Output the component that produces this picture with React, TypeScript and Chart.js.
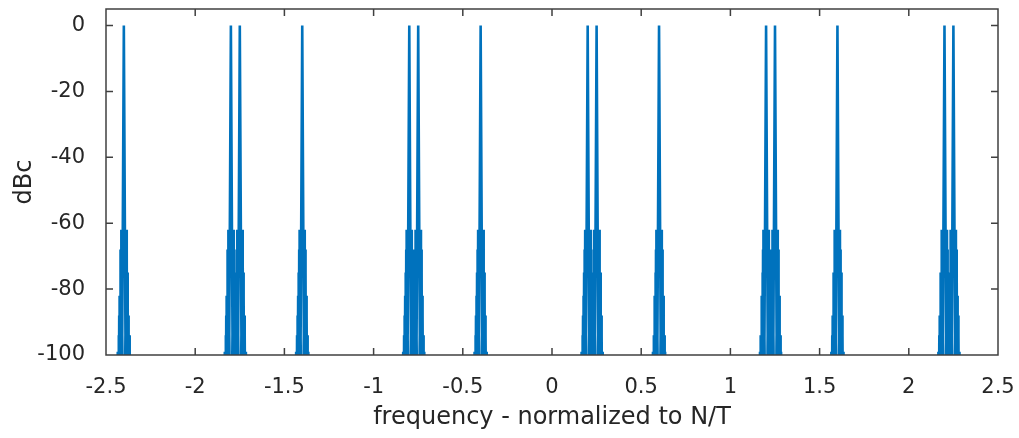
import React, { useEffect, useRef } from 'react';
import { Chart, registerables } from 'chart.js';

Chart.register(...registerables);

// Spike centres (frequency, normalized to N/T)
const spikeCenters = [-2.4, -1.8, -1.75, -1.4, -0.8, -0.75, -0.4, 0.2, 0.25, 0.6, 1.2, 1.25, 1.6, 2.2, 2.25];
// Shape of one spike: offsets from its centre and levels in dBc (drawn in order)
const shapeOffsets = [
  -0.040, -0.034, -0.0315, -0.029, -0.0275, -0.026, -0.0245, -0.023, -0.0215, -0.020, -0.0185, -0.017, -0.0155, -0.014, -0.004, -0.012,
  0,
  0.012, 0.004, 0.014, 0.0155, 0.017, 0.0185, 0.020, 0.0215, 0.023, 0.0245, 0.026, 0.0275, 0.029, 0.0315, 0.034, 0.040,
];
const shapeLevels = [
  -125, -99, -125, -94, -125, -88, -125, -82, -125, -75, -125, -68, -125, -62, -125, -125,
  0,
  -125, -125, -62, -125, -68, -125, -75, -125, -82, -125, -88, -125, -94, -125, -99, -125,
];

const xTicks = [-2.5, -2, -1.5, -1, -0.5, 0, 0.5, 1, 1.5, 2, 2.5];
const yTicks = [-100, -80, -60, -40, -20, 0];
const xLimits = [-2.5, 2.5];
const yLimits = [-100, 5];

const xTitle = 'frequency - normalized to N/T';
const yTitle = 'dBc';

const FONT = "'DejaVu Sans', 'Liberation Sans', Arial, sans-serif";
const TEXT = '#262626';

const boxPlugin = {
  id: 'matlabBox',
  afterDraw(chart: any) {
    const { ctx, chartArea: a, scales } = chart;
    const tl = 7;
    ctx.save();
    ctx.strokeStyle = '#404040';
    ctx.lineWidth = 1.5;
    ctx.beginPath();
    scales.x.ticks.forEach((t: any) => {
      const px = scales.x.getPixelForValue(t.value);
      ctx.moveTo(px, a.bottom);
      ctx.lineTo(px, a.bottom - tl);
      ctx.moveTo(px, a.top);
      ctx.lineTo(px, a.top + tl);
    });
    scales.y.ticks.forEach((t: any) => {
      const py = scales.y.getPixelForValue(t.value);
      ctx.moveTo(a.left, py);
      ctx.lineTo(a.left + tl, py);
      ctx.moveTo(a.right, py);
      ctx.lineTo(a.right - tl, py);
    });
    ctx.rect(a.left, a.top, a.right - a.left, a.bottom - a.top);
    ctx.stroke();
    ctx.restore();
  },
};

export default function App() {
  const ref = useRef<HTMLCanvasElement | null>(null);

  useEffect(() => {
    if (!ref.current) return;
    const points: any[] = [];
    spikeCenters.forEach((c) => {
      shapeOffsets.forEach((off, i) => {
        points.push({ x: c + off, y: shapeLevels[i] });
      });
      points.push({ x: c, y: null });
    });

    const chart = new Chart(ref.current, {
      type: 'line',
      data: {
        datasets: [
          {
            data: points,
            borderColor: '#0072BD',
            backgroundColor: '#0072BD',
            borderWidth: 2.6,
            pointRadius: 0,
            tension: 0,
            spanGaps: false,
            clip: 0,
          } as any,
        ],
      },
      options: {
        animation: false,
        responsive: true,
        maintainAspectRatio: false,
        layout: { padding: { top: 9, right: 21, left: 0, bottom: 0 } },
        plugins: { legend: { display: false }, tooltip: { enabled: false } },
        scales: {
          x: {
            type: 'linear',
            min: xLimits[0],
            max: xLimits[1],
            grid: { display: false },
            border: { display: false },
            afterBuildTicks: (s: any) => {
              s.ticks = xTicks.map((v) => ({ value: v }));
            },
            afterFit: (s: any) => {
              s.height = 83;
              s.paddingLeft = 0;
              s.paddingRight = 0;
            },
            ticks: {
              padding: 12,
              maxRotation: 0,
              autoSkip: false,
              color: TEXT,
              font: { family: FONT, size: 21 },
              callback: (v: any) => String(v),
            },
            title: {
              display: true,
              text: xTitle,
              color: TEXT,
              font: { family: FONT, size: 24 },
              padding: { top: 0, bottom: 6 },
            },
          },
          y: {
            type: 'linear',
            min: yLimits[0],
            max: yLimits[1],
            grid: { display: false },
            border: { display: false },
            afterBuildTicks: (s: any) => {
              s.ticks = yTicks.map((v) => ({ value: v }));
            },
            afterFit: (s: any) => {
              s.width = 106;
              s.paddingTop = 0;
              s.paddingBottom = 0;
            },
            ticks: {
              padding: 13,
              autoSkip: false,
              color: TEXT,
              font: { family: FONT, size: 21 },
              callback: (v: any) => String(v),
            },
            title: {
              display: true,
              text: yTitle,
              color: TEXT,
              font: { family: FONT, size: 24 },
              padding: { top: 10, bottom: 0 },
            },
          },
        },
      },
      plugins: [boxPlugin],
    });
    return () => chart.destroy();
  }, []);

  return (
    <div style={{ position: 'fixed', left: 0, top: 0, width: 1019, height: 438, background: '#fff' }}>
      <canvas ref={ref} />
    </div>
  );
}
